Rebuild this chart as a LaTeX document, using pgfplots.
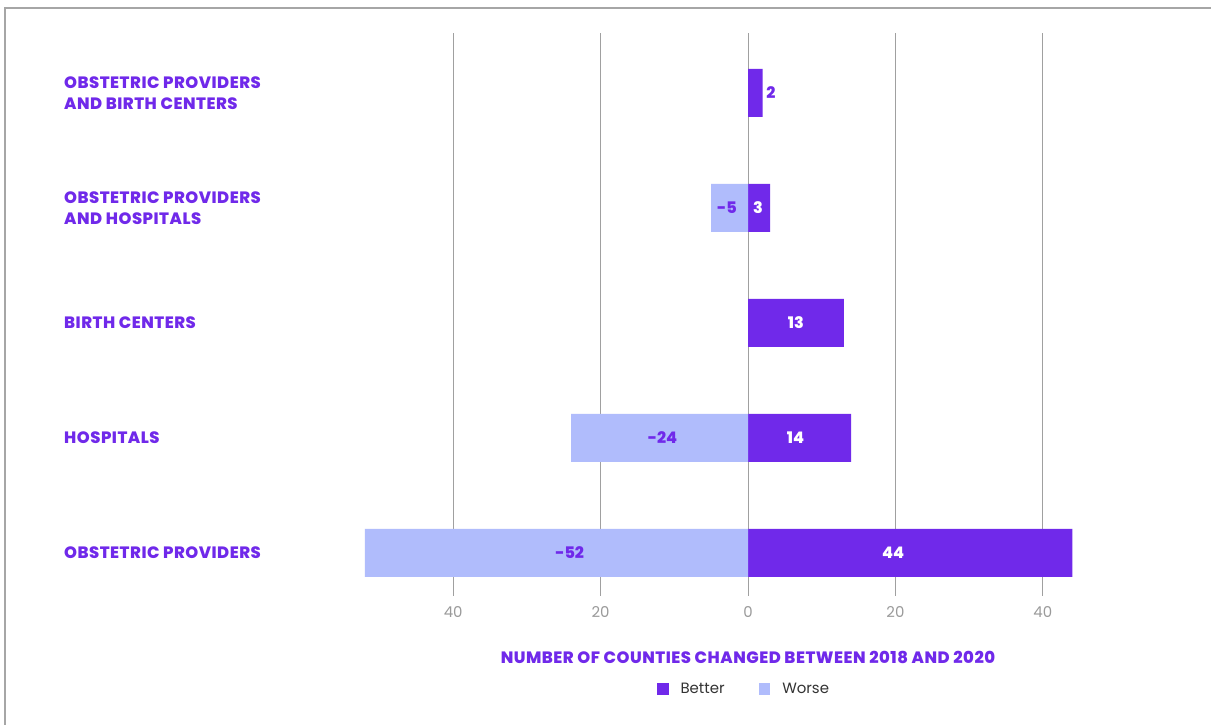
\documentclass[border=0pt]{standalone}
\usepackage{pgfplots}
\pgfplotsset{compat=1.18}
\usepackage{fontspec}
\setmainfont{Poppins}
\newfontfamily\heavy{Poppins ExtraBold}[LetterSpace=3]
\newfontfamily\heavynum{Poppins ExtraBold}
\definecolor{better}{HTML}{7029EA}
\definecolor{worse}{HTML}{B0BCFC}
\definecolor{tickgray}{HTML}{9A9A9A}
\definecolor{gridgray}{HTML}{A0A0A0}
\definecolor{legtext}{HTML}{333333}
\begin{document}
\begin{tikzpicture}
\useasboundingbox (0,0) rectangle (1211bp,725bp);
\fill[white] (0,0) rectangle (1211bp,725bp);
\draw[line width=1.5bp, color=black!35] (5bp,0) -- (5bp,717bp) -- (1211bp,717bp);
\begin{axis}[
  at={(748bp,172bp)}, anchor=origin,
  x=7.37bp, y=115bp,
  xmin=-60, xmax=60, ymin=-0.37, ymax=4.52,
  axis line style={draw=none},
  major tick length=0pt,
  xtick={-40,-20,0,20,40},
  xticklabels={40,20,0,20,40},
  xmajorgrids, grid style={gridgray, line width=0.9bp},
  xticklabel style={anchor=center, yshift=-16.5bp, text=tickgray, font=\fontsize{15}{18}\selectfont},
  ytick={0,1,2,3,4},
  yticklabels={{OBSTETRIC PROVIDERS},{HOSPITALS},{BIRTH CENTERS},{OBSTETRIC PROVIDERS\\AND HOSPITALS},{OBSTETRIC PROVIDERS\\AND BIRTH CENTERS}},
  yticklabel style={anchor=west, align=left, inner sep=0pt, xshift=-241.8bp, text=better, font=\fontsize{16.5}{21}\selectfont\heavy},
  bar width=48bp,
  xlabel={NUMBER OF COUNTIES CHANGED BETWEEN 2018 AND 2020},
  xlabel style={at={(axis description cs:0.5,0)}, anchor=center, yshift=-61.5bp, text=better, font=\fontsize{16.5}{18}\selectfont\heavy},
  legend style={at={(axis description cs:0.5,0)}, anchor=center, xshift=-4bp, yshift=-93.5bp, draw=none, fill=none, legend columns=2, font=\fontsize{15}{17}\selectfont, text=legtext,
    /tikz/every odd column/.append style={column sep=10bp},
    /tikz/every even column/.append style={column sep=32bp}},
  legend image code/.code={\fill[#1] (0bp,-5.8bp) rectangle (11.6bp,5.8bp);},
]
% bars
\addplot[xbar, bar shift=0pt, fill=better, draw=none]
  coordinates {(44,0) (14,1) (13,2) (3,3) (2,4)};
\addlegendentry{Better}
\addplot[xbar, bar shift=0pt, fill=worse, draw=none]
  coordinates {(-52,0) (-24,1) (-5,3)};
\addlegendentry{Worse}
% value labels (positions as in the reference)
\addplot[draw=none, mark=none, forget plot, point meta=explicit symbolic, nodes near coords,
  nodes near coords style={anchor=center, inner sep=0pt, text=white, font=\fontsize{16}{18}\selectfont\heavynum}]
  coordinates {(19.7,0) [44] (6.45,1) [14] (6.5,2) [13] (1.36,3) [3]};
\addplot[draw=none, mark=none, forget plot, point meta=explicit symbolic, nodes near coords,
  nodes near coords style={anchor=center, inner sep=0pt, text=better, font=\fontsize{16}{18}\selectfont\heavynum}]
  coordinates {(-24.2,0) [-52] (-11.6,1) [-24] (-2.85,3) [-5] (3.1,4) [2]};
\end{axis}
\end{tikzpicture}
\end{document}
